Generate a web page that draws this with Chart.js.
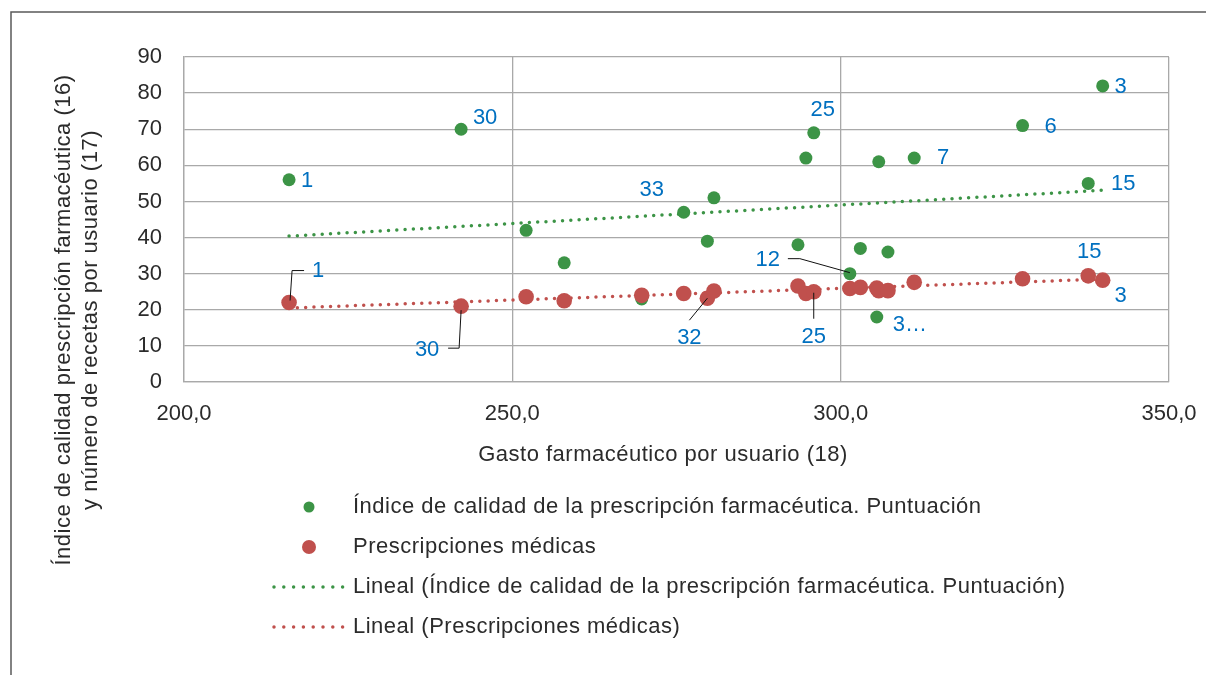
<!DOCTYPE html>
<html>
<head>
<meta charset="utf-8">
<script src="https://cdn.jsdelivr.net/npm/chart.js@4/dist/chart.umd.min.js"></script>
<style>
  body { margin: 0; background: #fff; }
</style>
</head>
<body>
<canvas id="grafico" width="1206" height="675"></canvas>
<script>
// Gasto farmacéutico por usuario (eje X), un valor por zona
const gasto = [216.0, 242.2, 252.1, 257.9, 269.7, 276.1, 279.7, 280.7, 293.5, 294.7,
               295.9, 301.4, 303.0, 305.5, 305.8, 307.2, 311.2, 327.7, 337.7, 339.9];
// Índice de calidad de la prescripción farmacéutica (puntuación)
const indiceCalidad = [56, 70, 42, 33, 23, 47, 39, 51, 38, 62,
                       69, 30, 37, 18, 61, 36, 62, 71, 55, 82];
// Prescripciones médicas (recetas por usuario)
const prescripciones = [22, 21, 23.6, 22.5, 24, 24.5, 23.2, 25.2, 26.6, 24.5,
                        25, 25.9, 26.2, 26, 25.3, 25.3, 27.6, 28.6, 29.4, 28.2];
// Líneas de tendencia (extremos)
const tendenciaX = [216, 340];
const tendenciaIndice = [40.4, 53.1];
const tendenciaPrescripciones = [20.5, 28.5];

const ticksX = [200, 250, 300, 350];
const ticksY = [0, 10, 20, 30, 40, 50, 60, 70, 80, 90];

// Etiquetas de datos (índice del punto, texto)
const etiquetasIndice = [[0, '1'], [1, '30'], [5, '33'], [10, '25'], [11, '12'], [13, '3…'],
                         [16, '7'], [17, '6'], [18, '15'], [19, '3']];
const etiquetasPrescripciones = [[0, '1'], [1, '30'], [6, '32'], [10, '25'], [18, '15'], [19, '3']];

const nombreIndice = 'Índice de calidad de la prescripción farmacéutica. Puntuación';
const nombrePrescripciones = 'Prescripciones médicas';

const VERDE = '#3c9446';
const ROJO = '#c0504d';
const AZUL = '#0070c0';
const TEXTO = '#2b2b2b';
const GRIS = '#a9a9a9';
const FUENTE = '"Liberation Sans", Arial, sans-serif';

// desplazamientos de las etiquetas respecto al punto (px) y líneas guía
const posIndice = {
    0: { dx: 18, dy: 1 }, 1: { dx: 24, dy: -11 }, 5: { dx: -32, dy: -22 }, 10: { dx: 9, dy: -23 },
    11: { dx: -82, dy: -14, guia: [[-62, -15], [-50, -15], [0, -1]] },
    13: { dx: 33, dy: 8 }, 16: { dx: 29, dy: 0 }, 17: { dx: 28, dy: 1 }, 18: { dx: 35, dy: 1 }, 19: { dx: 18, dy: 1 }
};
const posPrescripciones = {
    0: { dx: 29, dy: -32, guia: [[1, -2], [3, -32], [15, -32]] },
    1: { dx: -34, dy: 44, guia: [[0, 4], [-2, 42], [-13, 42]] },
    6: { dx: -18, dy: 40, guia: [[0, 0], [-18, 22]] },
    10: { dx: 0, dy: 45, guia: [[0, 1], [0, 27]] },
    18: { dx: 1, dy: -24 }, 19: { dx: 18, dy: 16 }
};

function puntos(xs, ys) {
    return xs.map((x, i) => ({ x: x, y: ys[i] }));
}

// Plugin: marco, títulos de ejes, etiquetas de datos y leyenda
const decoracion = {
    id: 'decoracion',
    afterDatasetsDraw(chart) {
        const c = chart.ctx;
        c.save();
        c.font = '22px ' + FUENTE;
        c.textAlign = 'center';
        c.textBaseline = 'middle';

        const dibujarEtiquetas = (indiceDataset, lista, pos) => {
            const meta = chart.getDatasetMeta(indiceDataset);
            lista.forEach(([i, texto]) => {
                const p = meta.data[i];
                const o = pos[i];
                if (o.guia) {
                    c.strokeStyle = '#111';
                    c.lineWidth = 1;
                    c.beginPath();
                    o.guia.forEach(([gx, gy], k) => {
                        if (k === 0) c.moveTo(p.x + gx, p.y + gy);
                        else c.lineTo(p.x + gx, p.y + gy);
                    });
                    c.stroke();
                }
                c.fillStyle = AZUL;
                c.fillText(texto, p.x + o.dx, p.y + o.dy);
            });
        };
        dibujarEtiquetas(2, etiquetasIndice, posIndice);
        dibujarEtiquetas(3, etiquetasPrescripciones, posPrescripciones);
        c.restore();
    },
    afterDraw(chart) {
        const c = chart.ctx;
        c.save();
        // marco exterior
        c.strokeStyle = '#5a5a5a';
        c.lineWidth = 1.5;
        c.beginPath();
        c.moveTo(11, 675);
        c.lineTo(11, 12);
        c.lineTo(1206, 12);
        c.stroke();

        c.fillStyle = TEXTO;
        c.font = '22px ' + FUENTE;
        c.letterSpacing = '0.5px';
        c.textAlign = 'center';
        c.textBaseline = 'middle';
        // título eje X
        c.fillText('Gasto farmacéutico por usuario (18)', 663, 455);
        // título eje Y (dos líneas)
        c.save();
        c.translate(64, 320);
        c.rotate(-Math.PI / 2);
        c.fillText('Índice de calidad prescripción farmacéutica (16)', 0, 0);
        c.fillText('y número de recetas por usuario (17)', 0, 27);
        c.restore();

        // leyenda
        c.textAlign = 'left';
        const filas = [507, 547, 587, 627];
        c.fillStyle = VERDE;
        c.beginPath(); c.arc(309, filas[0], 5.5, 0, Math.PI * 2); c.fill();
        c.fillStyle = ROJO;
        c.beginPath(); c.arc(309, filas[1], 7, 0, Math.PI * 2); c.fill();
        c.lineWidth = 3.5;
        c.lineCap = 'round';
        c.setLineDash([0, 9.8]);
        [[VERDE, filas[2]], [ROJO, filas[3]]].forEach(([col, y]) => {
            c.strokeStyle = col;
            c.beginPath(); c.moveTo(274, y); c.lineTo(344, y); c.stroke();
        });
        c.setLineDash([]);
        c.fillStyle = TEXTO;
        c.fillText(nombreIndice, 353, filas[0]);
        c.fillText(nombrePrescripciones, 353, filas[1]);
        c.fillText('Lineal (' + nombreIndice + ')', 353, filas[2]);
        c.fillText('Lineal (' + nombrePrescripciones + ')', 353, filas[3]);
        c.restore();
    }
};

const grafico = new Chart(document.getElementById('grafico'), {
    type: 'scatter',
    data: {
        datasets: [
            {
                label: 'Lineal (' + nombreIndice + ')',
                type: 'line',
                data: puntos(tendenciaX, tendenciaIndice),
                borderColor: VERDE,
                borderWidth: 3.5,
                borderDash: [0, 8.3],
                borderCapStyle: 'round',
                pointRadius: 0,
                fill: false,
                order: 3
            },
            {
                label: 'Lineal (' + nombrePrescripciones + ')',
                type: 'line',
                data: puntos(tendenciaX, tendenciaPrescripciones),
                borderColor: ROJO,
                borderWidth: 3.5,
                borderDash: [0, 8.3],
                borderCapStyle: 'round',
                pointRadius: 0,
                fill: false,
                order: 2
            },
            {
                label: nombreIndice,
                data: puntos(gasto, indiceCalidad),
                backgroundColor: VERDE,
                pointRadius: 6.5,
                pointBorderWidth: 0,
                order: 1
            },
            {
                label: nombrePrescripciones,
                data: puntos(gasto, prescripciones),
                backgroundColor: ROJO,
                pointRadius: 7.8,
                pointBorderWidth: 0,
                order: 0
            }
        ]
    },
    options: {
        responsive: false,
        animation: false,
        devicePixelRatio: 1,
        layout: { padding: { top: 57, right: 37, left: 0, bottom: 0 } },
        plugins: {
            legend: { display: false },
            tooltip: { enabled: false }
        },
        scales: {
            x: {
                type: 'linear',
                min: 200,
                max: 350,
                afterBuildTicks: (s) => { s.ticks = ticksX.map(v => ({ value: v })); },
                afterFit: (s) => { s.height = 293; s.paddingLeft = 0; s.paddingRight = 0; },
                ticks: {
                    padding: 19,
                    color: TEXTO,
                    font: { family: FUENTE, size: 22 },
                    callback: (v) => v.toFixed(1).replace('.', ',')
                },
                grid: { color: GRIS, lineWidth: 1.3, drawTicks: false },
                border: { color: GRIS, width: 1.3 }
            },
            y: {
                min: 0,
                max: 90,
                afterBuildTicks: (s) => { s.ticks = ticksY.map(v => ({ value: v })); },
                afterFit: (s) => { s.width = 184; s.paddingTop = 0; s.paddingBottom = 0; },
                ticks: {
                    padding: 22,
                    color: TEXTO,
                    font: { family: FUENTE, size: 22 }
                },
                grid: { color: GRIS, lineWidth: 1.3, drawTicks: false },
                border: { color: GRIS, width: 1.3 }
            }
        }
    },
    plugins: [decoracion]
});
</script>
</body>
</html>
